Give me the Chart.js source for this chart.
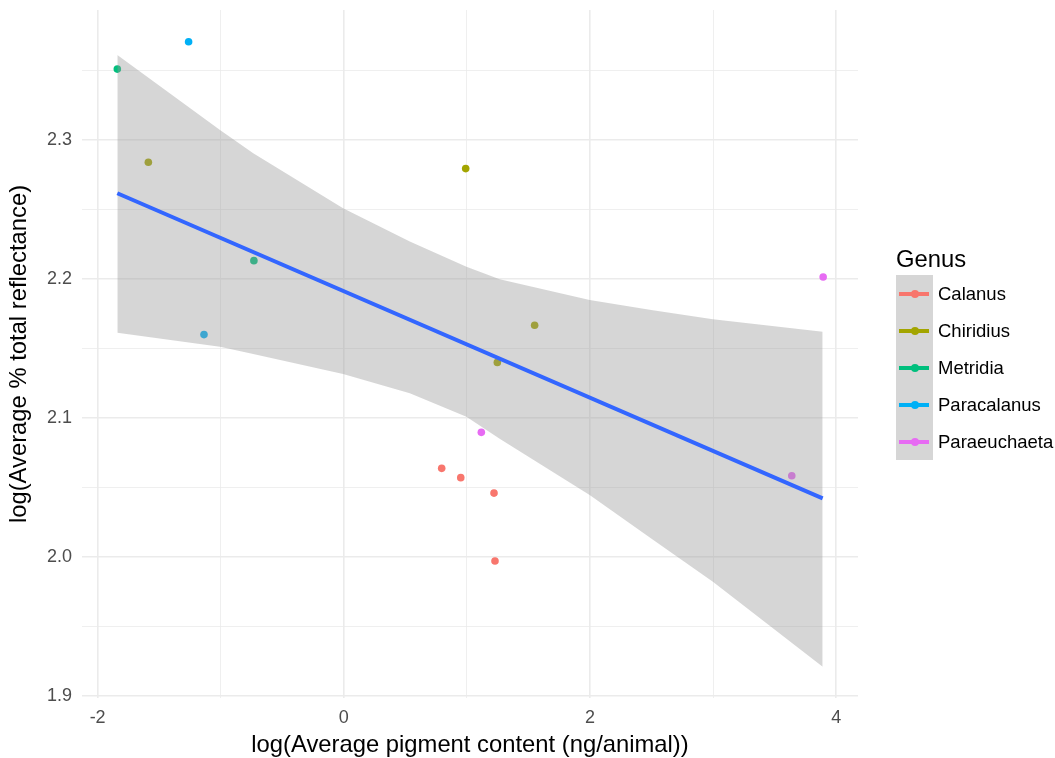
<!DOCTYPE html>
<html>
<head>
<meta charset="utf-8">
<script src="https://cdn.jsdelivr.net/npm/chart.js@4/dist/chart.umd.min.js"></script>
<style>
  html, body { margin: 0; padding: 0; background: #fff; }
  #wrap { position: relative; width: 1055px; height: 758px; font-family: 'Liberation Sans', Arial, sans-serif; }
  #c { position: absolute; left: 0; top: 0; }
  #legend { position: absolute; left: 896px; top: 244px; }
  #legend .title { font-size: 23.8px; color: #000; height: 31px; line-height: 29px; white-space: nowrap; }
  #legend .row { display: flex; align-items: center; height: 37px; }
  #legend .key { width: 37px; height: 37px; background: #D6D6D6; position: relative; }
  #legend .key .ln { position: absolute; left: 3px; width: 30px; top: 16.5px; height: 4px; }
  #legend .key .dt { position: absolute; left: 14.5px; top: 14.5px; width: 8px; height: 8px; border-radius: 50%; }
  #legend .lab { font-size: 18.5px; color: #000; margin-left: 5px; white-space: nowrap; }
</style>
</head>
<body>
<div id="wrap">
  <canvas id="c" width="1055" height="758"></canvas>
  <div id="legend"></div>
</div>
<script>
// ---- data ----
const genera = ['Calanus', 'Chiridius', 'Metridia', 'Paracalanus', 'Paraeuchaeta'];
const genusColors = ['#F8766D', '#A3A500', '#00BF7D', '#00B0F6', '#E76BF3'];

const calanusX = [0.795, 0.950, 1.220, 1.228];
const calanusY = [2.0638, 2.0571, 2.0460, 1.9971];
const chiridiusX = [-1.588, 0.990, 1.550, 1.247];
const chiridiusY = [2.2840, 2.2794, 2.1667, 2.1400];
const metridiaX = [-1.840, -0.7305];
const metridiaY = [2.3510, 2.2132];
const paracalanusX = [-1.261, -1.136];
const paracalanusY = [2.3707, 2.1600];
const paraeuchaetaX = [1.117, 3.894, 3.639];
const paraeuchaetaY = [2.0897, 2.2014, 2.0585];

// smoothing line (linear fit) end points and confidence band edges
const fitX = [-1.840, 3.890];
const fitY = [2.2617, 2.0422];
const bandX = [-1.840, -1.006, -0.736, -0.006, 0.536, 0.996, 1.266, 1.997, 2.497, 2.998, 3.890];
const bandUpper = [2.3612, 2.3072, 2.2904, 2.2509, 2.2269, 2.2089, 2.1998, 2.1849, 2.1777, 2.1710, 2.1621];
const bandLower = [2.1614, 2.1513, 2.1460, 2.1317, 2.1178, 2.1010, 2.0850, 2.0446, 2.0134, 1.9822, 1.9211];

// axes
const xMajor = [-2, 0, 2, 4];
const xMinor = [-1, 1, 3];
const yMajor = [1.9, 2.0, 2.1, 2.2, 2.3];
const yMinor = [1.95, 2.05, 2.15, 2.25, 2.35];
const xLimits = [-2.127, 4.177];
const yLimits = [1.8986, 2.3935];
const xTitle = 'log(Average pigment content (ng/animal))';
const yTitle = 'log(Average % total reflectance)';
const legendTitle = 'Genus';

// ---- build ----
const seriesX = [calanusX, chiridiusX, metridiaX, paracalanusX, paraeuchaetaX];
const seriesY = [calanusY, chiridiusY, metridiaY, paracalanusY, paraeuchaetaY];
const zip = (xs, ys) => xs.map((x, i) => ({ x: x, y: ys[i] }));
const isIn = (arr, v) => arr.some(m => Math.abs(m - v) < 1e-9);

const datasets = genera.map((g, i) => ({
  label: g,
  data: zip(seriesX[i], seriesY[i]),
  backgroundColor: genusColors[i],
  borderColor: genusColors[i],
  pointRadius: 3.8,
  pointBorderWidth: 0,
  showLine: false,
  order: 3
}));
datasets.push({
  label: 'band upper',
  data: zip(bandX, bandUpper),
  showLine: true,
  pointRadius: 0,
  borderWidth: 0,
  borderColor: 'rgba(0,0,0,0)',
  backgroundColor: 'rgba(153,153,153,0.4)',
  fill: '+1',
  tension: 0,
  order: 2
});
datasets.push({
  label: 'band lower',
  data: zip(bandX, bandLower),
  showLine: true,
  pointRadius: 0,
  borderWidth: 0,
  borderColor: 'rgba(0,0,0,0)',
  fill: false,
  tension: 0,
  order: 2
});
datasets.push({
  label: 'fit',
  data: zip(fitX, fitY),
  showLine: true,
  pointRadius: 0,
  borderWidth: 4,
  borderColor: '#3366FF',
  fill: false,
  tension: 0,
  order: 1
});

Chart.defaults.font.family = "'Liberation Sans', Arial, sans-serif";

const noPad = s => { s.paddingTop = 0; s.paddingBottom = 0; s.paddingLeft = 0; s.paddingRight = 0; };

new Chart(document.getElementById('c'), {
  type: 'scatter',
  data: { datasets: datasets },
  options: {
    responsive: false,
    animation: false,
    devicePixelRatio: 1,
    layout: { padding: { top: 10, right: 197, bottom: 0, left: 0 } },
    plugins: {
      legend: { display: false },
      tooltip: { enabled: false },
      filler: { drawTime: 'beforeDatasetDraw' }
    },
    scales: {
      x: {
        type: 'linear',
        min: xLimits[0], max: xLimits[1],
        afterBuildTicks: s => { s.ticks = xMajor.concat(xMinor).sort((a, b) => a - b).map(v => ({ value: v })); },
        afterFit: s => { s.height = 60; noPad(s); },
        border: { display: false },
        grid: {
          drawTicks: false,
          color: '#EBEBEB',
          lineWidth: c => (c.tick && isIn(xMajor, c.tick.value)) ? 1.6 : 0.8
        },
        ticks: {
          autoSkip: false, maxRotation: 0, padding: 9,
          color: '#4D4D4D', font: { size: 18 },
          callback: v => isIn(xMajor, v) ? String(v) : ''
        },
        title: { display: true, text: xTitle, color: '#000', font: { size: 23.8, lineHeight: 1.0 }, padding: { top: 0, bottom: 1 } }
      },
      y: {
        type: 'linear',
        min: yLimits[0], max: yLimits[1],
        afterBuildTicks: s => { s.ticks = yMajor.concat(yMinor).sort((a, b) => a - b).map(v => ({ value: v })); },
        afterFit: s => { s.width = 82; noPad(s); },
        border: { display: false },
        grid: {
          drawTicks: false,
          color: '#EBEBEB',
          lineWidth: c => (c.tick && isIn(yMajor, c.tick.value)) ? 1.6 : 0.8
        },
        ticks: {
          autoSkip: false, padding: 10,
          color: '#4D4D4D', font: { size: 18 },
          callback: v => isIn(yMajor, v) ? v.toFixed(1) : ''
        },
        title: { display: true, text: yTitle, color: '#000', font: { size: 23.8 }, padding: { top: 5, bottom: 0 } }
      }
    }
  }
});

// legend (HTML, real text)
const lg = document.getElementById('legend');
const t = document.createElement('div');
t.className = 'title';
t.textContent = legendTitle;
lg.appendChild(t);
genera.forEach((g, i) => {
  const row = document.createElement('div');
  row.className = 'row';
  const key = document.createElement('div');
  key.className = 'key';
  const ln = document.createElement('div');
  ln.className = 'ln';
  ln.style.background = genusColors[i];
  const dt = document.createElement('div');
  dt.className = 'dt';
  dt.style.background = genusColors[i];
  key.appendChild(ln);
  key.appendChild(dt);
  const lab = document.createElement('div');
  lab.className = 'lab';
  lab.textContent = g;
  row.appendChild(key);
  row.appendChild(lab);
  lg.appendChild(row);
});
</script>
</body>
</html>
